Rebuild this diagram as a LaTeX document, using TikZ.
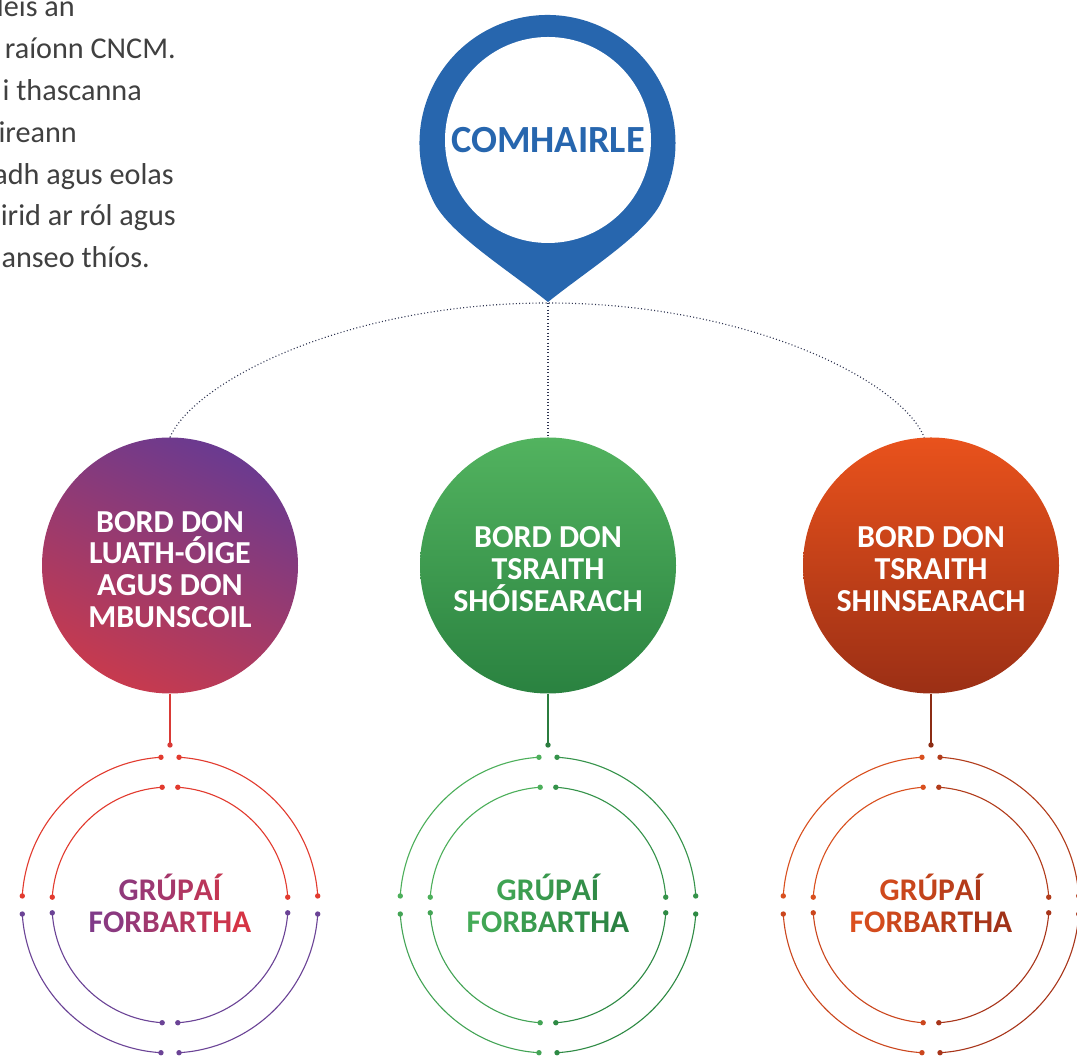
\documentclass[tikz,border=0pt]{standalone}
\usepackage{fontspec}
\setmainfont{Carlito}
\usetikzlibrary{calc}
\definecolor{pinblue}{HTML}{2766AE}
\definecolor{introgray}{HTML}{404040}
\definecolor{dotgray}{HTML}{2E3350}
\definecolor{purpA}{HTML}{6A3A90}
\definecolor{redB}{HTML}{C73A4E}
\definecolor{greenA}{HTML}{52B35F}
\definecolor{greenB}{HTML}{2A8240}
\definecolor{orA}{HTML}{E9521C}
\definecolor{orM}{HTML}{D84A1C}
\definecolor{orB}{HTML}{9B2F15}
\definecolor{gLa}{HTML}{7B3A8C}
\definecolor{gLb}{HTML}{DB3440}
\definecolor{gMa}{HTML}{45AD58}
\definecolor{gMb}{HTML}{2A8041}
\definecolor{gRa}{HTML}{DE511E}
\definecolor{gRb}{HTML}{9E3018}
\definecolor{ringRed}{HTML}{E23A2E}
\definecolor{ringPurple}{HTML}{6B4396}
\definecolor{ringGa}{HTML}{4CAF5A}
\definecolor{ringGb}{HTML}{35934A}
\definecolor{ringGc}{HTML}{43A455}
\definecolor{ringGd}{HTML}{2E8A44}
\definecolor{ringOa}{HTML}{D9501F}
\definecolor{ringOb}{HTML}{B23C1B}
\definecolor{ringOc}{HTML}{CB461D}
\definecolor{ringOd}{HTML}{A8351A}
\definecolor{connL}{HTML}{D93A36}
\definecolor{connM}{HTML}{2B7D3F}
\definecolor{connR}{HTML}{8C2C14}
\newcommand\gL[2]{\textcolor{gLb!#1!gLa}{#2}}
\newcommand\gM[2]{\textcolor{gMb!#1!gMa}{#2}}
\newcommand\gR[2]{\textcolor{gRb!#1!gRa}{#2}}
\newcommand\rarc[5]{%
  \draw[ringline,#5] ($(#1)+(#3:#2)$) arc[start angle=#3,end angle=#4,radius=#2];
  \fill[#5] ($(#1)+(#3:#2)$) circle[radius=2.7] ($(#1)+(#4:#2)$) circle[radius=2.7];}
\newcommand\ringset[5]{%
  \rarc{#1}{148}{3.5}{86.5}{#2}\rarc{#1}{148}{93.5}{176.5}{#3}%
  \rarc{#1}{148}{183.5}{266.5}{#4}\rarc{#1}{148}{273.5}{356.5}{#5}%
  \rarc{#1}{118}{3.8}{86.2}{#2}\rarc{#1}{118}{93.8}{176.2}{#3}%
  \rarc{#1}{118}{183.8}{266.2}{#4}\rarc{#1}{118}{273.8}{356.2}{#5}}
\begin{document}
\begin{tikzpicture}[x=1pt,y=1pt,
  introtext/.style={anchor=base east,inner sep=0,text=introgray,font=\fontsize{30.2}{38}\selectfont},
  board/.style={circle,minimum size=256,inner sep=0},
  boardtext/.style={inner sep=0,text=white,align=center,
    font=\bfseries\fontsize{32}{31.8}\selectfont},
  grouptext/.style={align=center,inner sep=0,font=\bfseries\fontsize{31.5}{32}\selectfont},
  dotline/.style={dotgray,line width=1.1pt,dash pattern=on 1pt off 2.3pt},
  ringline/.style={line width=1.1pt},
  connline/.style={line width=1.1pt}]
\useasboundingbox (0,0) rectangle (1077,1057);
\fill[white] (0,0) rectangle (1077,1057);

% intro text (cut at the left edge)
\node[introtext] (t1) at (75,1040) {leis an};
\node[introtext] (t2) at (176,998.2) {raíonn CNCM.};
\node[introtext] (t3) at (142,956.4) {i thascanna};
\node[introtext] (t4) at (77,914.6) {ireann};
\node[introtext] (t5) at (174,872.8) {adh agus eolas};
\node[introtext] (t6) at (176,831) {irid ar ról agus};
\node[introtext] (t7) at (150,789.2) {anseo thíos.};

% pin
\fill[pinblue] (548,755) .. controls (503,791) and (445,826) .. (431.5,859.9)
  arc[start angle=205,end angle=-25,radius=128]
  .. controls (651,826) and (593,791) .. (548,755) -- cycle;
\node[circle,fill=white,minimum size=206,inner sep=0,text=pinblue,
  font=\bfseries\fontsize{38.4}{44}\selectfont] (council) at (548,917) {COMHAIRLE};
\coordinate (hub) at (548,754);

% boards
\node[board,top color=purpA,bottom color=redB,shading angle=-25] (bL) at (170,491.5) {};
\node[board,top color=greenA,bottom color=greenB] (bM) at (548,491.5) {};
\node[board,top color=orA,middle color=orM,bottom color=orB] (bR) at (931,491.5) {};
\node[boardtext] (bLt) at (170,487.5) {BORD DON\\LUATH-ÓIGE\\AGUS DON\\MBUNSCOIL};
\node[boardtext] (bMt) at (548,488) {BORD DON\\TSRAITH\\SHÓISEARACH};
\node[boardtext] (bRt) at (931,488) {BORD DON\\TSRAITH\\SHINSEARACH};

% dotted links
\draw[dotline] (bL.north) .. controls (195,677) and (350,754) .. (hub)
  .. controls (746,754) and (901,677) .. (bR.93);
\draw[dotline] (hub) -- (bM.north);

% connectors to groups
\coordinate (dL) at (170,312);
\coordinate (dM) at (548,312);
\coordinate (dR) at (931,312);
\draw[connline,connL] (bL.south) -- (dL);
\draw[connline,connM] (bM.south) -- (dM);
\draw[connline,connR] (bR.south) -- (dR);
\fill[connL] (dL) circle[radius=2.7];
\fill[connM] (dM) circle[radius=2.7];
\fill[connR] (dR) circle[radius=2.7];

% group rings
\node[grouptext] (gL) at (170,154)
  {\gL{22}{G}\gL{33}{R}\gL{44}{Ú}\gL{55}{P}\gL{66}{A}\gL{76}{Í}\\
   \gL{5}{F}\gL{16}{O}\gL{28}{R}\gL{39}{B}\gL{50}{A}\gL{61}{R}\gL{72}{T}\gL{84}{H}\gL{95}{A}};
\node[grouptext] (gM) at (548,154)
  {\gM{22}{G}\gM{33}{R}\gM{44}{Ú}\gM{55}{P}\gM{66}{A}\gM{76}{Í}\\
   \gM{5}{F}\gM{16}{O}\gM{28}{R}\gM{39}{B}\gM{50}{A}\gM{61}{R}\gM{72}{T}\gM{84}{H}\gM{95}{A}};
\node[grouptext] (gR) at (931,154)
  {\gR{22}{G}\gR{33}{R}\gR{44}{Ú}\gR{55}{P}\gR{66}{A}\gR{76}{Í}\\
   \gR{5}{F}\gR{16}{O}\gR{28}{R}\gR{39}{B}\gR{50}{A}\gR{61}{R}\gR{72}{T}\gR{84}{H}\gR{95}{A}};
\coordinate (cL) at (170,152);
\coordinate (cM) at (548,152);
\coordinate (cR) at (931,152);
\ringset{cL}{ringRed}{ringRed}{ringPurple}{ringPurple}
\ringset{cM}{ringGb}{ringGa}{ringGc}{ringGd}
\ringset{cR}{ringOb}{ringOa}{ringOc}{ringOd}
\end{tikzpicture}
\end{document}
